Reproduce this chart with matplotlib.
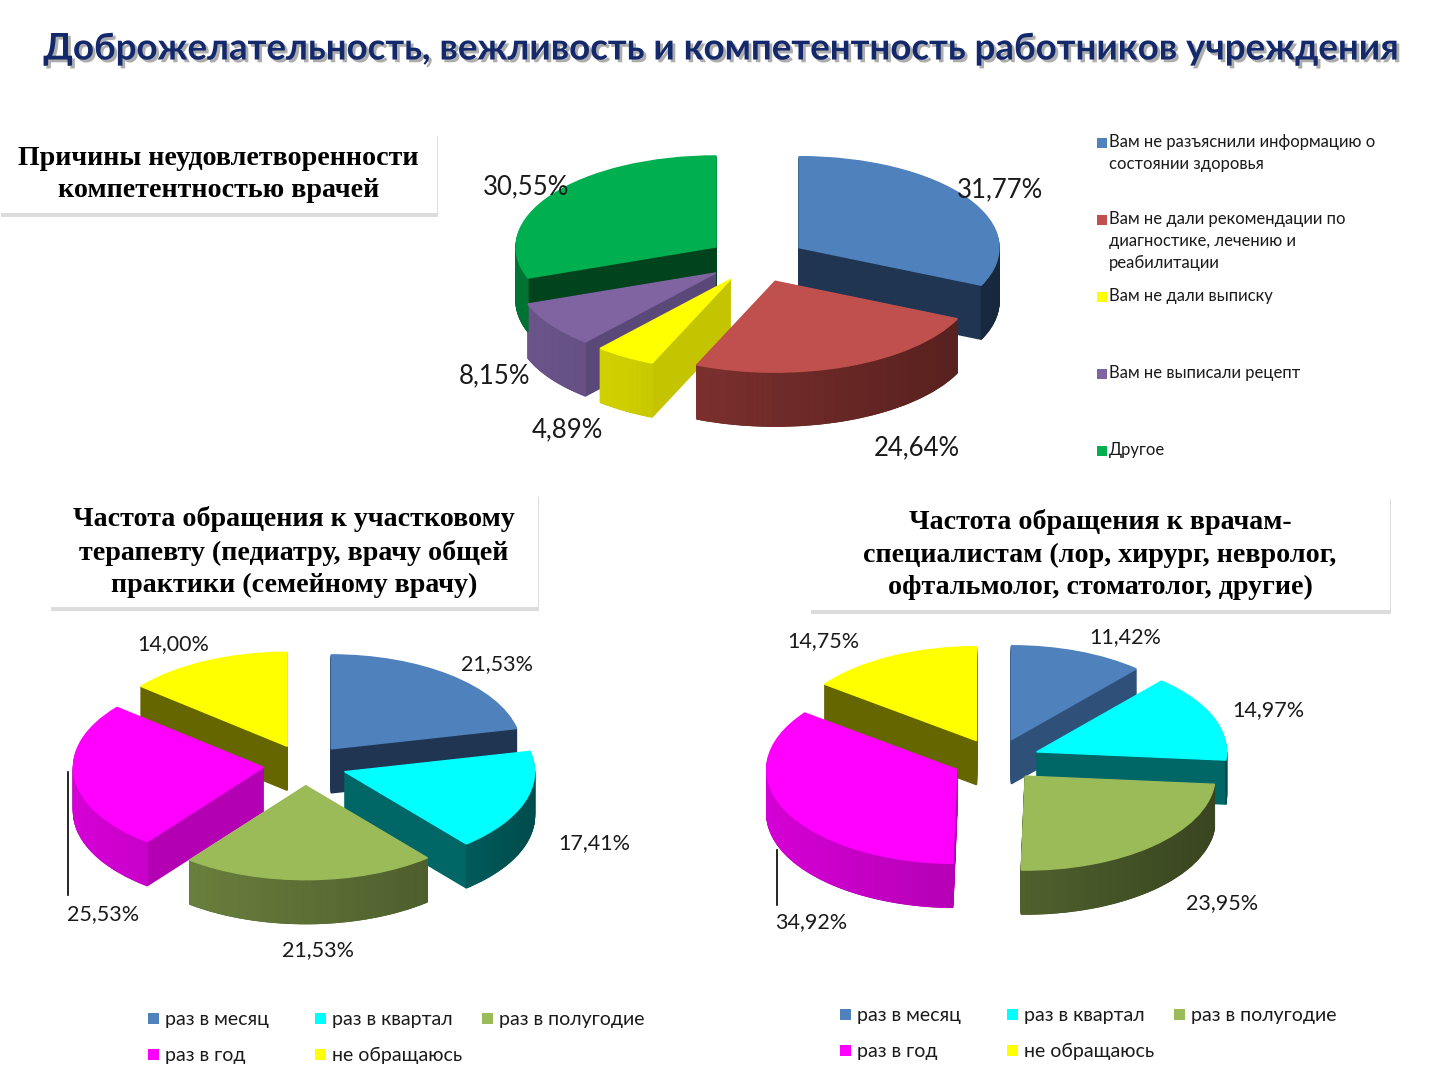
import matplotlib
matplotlib.use("Agg")
import numpy as np
import matplotlib.pyplot as plt
import matplotlib.patheffects as pe
from matplotlib.colors import to_rgb
from matplotlib.patches import Rectangle

# data
reasons = ["Вам не разъяснили информацию о\nсостоянии здоровья",
           "Вам не дали рекомендации по\nдиагностике, лечению и\nреабилитации",
           "Вам не дали выписку",
           "Вам не выписали рецепт",
           "Другое"]
reasons_vals = [31.77, 24.64, 4.89, 8.15, 30.55]

freq = ["раз в месяц", "раз в квартал", "раз в полугодие", "раз в год", "не обращаюсь"]
therapist_vals = [21.53, 17.41, 21.53, 25.53, 14.00]
specialist_vals = [11.42, 14.97, 23.95, 34.92, 14.75]

title = "Доброжелательность, вежливость и компетентность работников учреждения"
box_titles = ["Причины неудовлетворенности\nкомпетентностью врачей",
              "Частота обращения к участковому\nтерапевту (педиатру, врачу общей\nпрактики (семейному врачу)",
              "Частота обращения к врачам-\nспециалистам (лор, хирург, невролог,\nофтальмолог, стоматолог, другие)"]

# colours
reason_top = ["#4F81BD", "#C0504D", "#FFFF00", "#8064A2", "#00B050"]
reason_side = ["#1F3552", "#6E2826", "#C4C400", "#5A4878", "#00431D"]
freq_top = ["#4F81BD", "#00FFFF", "#9BBB59", "#FF00FF", "#FFFF00"]
freq_side_l = ["#1F3552", "#006666", "#586B33", "#B300B3", "#666600"]
freq_side_r = ["#2F5078", "#006666", "#4A5A2A", "#B300B3", "#666600"]

W, H = 1440, 1080
fig = plt.figure(figsize=(14.4, 10.8), dpi=100)
fig.patch.set_facecolor("white")


def fx(x):
    return x / W


def fy(y):
    return 1 - y / H


def fmt(v):
    return f"{v:.2f}%".replace(".", ",")


def mix(c1, c2, t):
    a, b = np.array(to_rgb(c1)), np.array(to_rgb(c2))
    return tuple(a * (1 - t) + b * t)


def pie3d(cx, cy, rx, ry, depth, values, tops, sides, explode, lab_xy, fs, lead=None):
    hw, hh = 2.2 * rx, 3.2 * ry
    ax = fig.add_axes([fx(cx - hw), fy(cy + hh), 2 * hw / W, 2 * hh / H])
    d = depth / ry
    n = int(depth)
    ex = [explode] * len(values)
    # side walls: stacked copies of the pie, bottom first
    for k in range(n, 0, -1):
        wedges, _ = ax.pie(values, colors=sides, startangle=90, counterclock=False,
                           explode=ex, center=(0, -d * k / n), wedgeprops=dict(linewidth=1))
        for w in wedges:
            w.set_edgecolor(w.get_facecolor())
    # shaded outer rim on the front half
    total = sum(values)
    start = 90.0
    for v, top, side in zip(values, tops, sides):
        t1 = start
        t2 = start - 360.0 * v / total
        start = t2
        mid = np.radians((t1 + t2) / 2)
        ox, oy = explode * np.cos(mid), explode * np.sin(mid)
        light = mix(side, top, 0.45)
        dark = mix(side, "black", 0.25)
        th = np.radians(np.linspace(t2, t1, max(int((t1 - t2) / 1.5), 2) + 1))
        for a, b in zip(th[:-1], th[1:]):
            if np.sin((a + b) / 2) >= 0:
                continue
            xs = [ox + np.cos(a), ox + np.cos(b), ox + np.cos(b), ox + np.cos(a)]
            ys = [oy + np.sin(a), oy + np.sin(b), oy + np.sin(b) - d, oy + np.sin(a) - d]
            c = mix(light, dark, (np.mean(xs[:2]) + 1.2) / 2.4)
            ax.fill(xs, ys, color=c, lw=0.8, ec=c)
    wedges, _ = ax.pie(values, colors=tops, startangle=90, counterclock=False,
                       explode=ex, center=(0, 0), wedgeprops=dict(linewidth=1))
    for w in wedges:
        w.set_edgecolor(w.get_facecolor())
    ax.set_aspect("auto")
    ax.set_xlim(-hw / rx, hw / rx)
    ax.set_ylim(-hh / ry, hh / ry)
    ax.axis("off")
    for v, (px, py) in zip(values, lab_xy):
        ax.text((px - cx) / rx, -(py - cy) / ry, fmt(v), ha="center", va="center",
                fontsize=fs, family="Lato", color="#1a1a1a")
    if lead is not None:
        lx, y1, y2 = lead
        ax.plot([(lx - cx) / rx] * 2, [-(y1 - cy) / ry, -(y2 - cy) / ry], color="black", lw=1.2)
    return ax


def box(x1, y1, x2, y2, text, fs):
    r = Rectangle((fx(x1), fy(y2)), (x2 - x1) / W, (y2 - y1) / H, transform=fig.transFigure,
                  facecolor="white", edgecolor="none", zorder=5,
                  path_effects=[pe.SimplePatchShadow(offset=(1, -3), shadow_rgbFace="#a8a8a8", alpha=0.4),
                                pe.Normal()])
    fig.add_artist(r)
    fig.text(fx((x1 + x2) / 2), fy((y1 + y2) / 2 + 2), text, ha="center", va="center",
             fontsize=fs, family="Liberation Serif", weight="bold", linespacing=1.38, zorder=6)


# title
fig.text(fx(721), fy(49), title, ha="center", va="center", fontsize=26.4, family="Lato",
         weight="bold", color="#13296B",
         path_effects=[pe.SimplePatchShadow(offset=(2, -2), shadow_rgbFace="#777777", alpha=0.6),
                       pe.Normal()])

# boxes
box(0, 132, 437, 213, box_titles[0], 20.2)
box(50, 493, 538, 607, box_titles[1], 20.2)
box(810, 495, 1390, 610, box_titles[2], 20.2)

# top pie
pie3d(757, 260, 200, 91, 54, reasons_vals, reason_top, reason_side, 0.25,
      [(1000, 190), (917, 448), (567, 430), (495, 376), (526, 187)], 18.5)

# top legend
for i, (lab, col) in enumerate(zip(reasons, reason_top)):
    y = 142 + 77 * i
    fig.add_artist(Rectangle((fx(1097), fy(y + 6)), 10 / W, 10 / H, transform=fig.transFigure,
                             facecolor=col, edgecolor="none"))
    fig.text(fx(1109), fy(y - 8), lab, ha="left", va="top", fontsize=12, family="Lato",
             linespacing=1.47, color="#1a1a1a")

# bottom left pie
pie3d(305, 765, 190, 94, 44, therapist_vals, freq_top, freq_side_l, 0.22,
      [(497, 664), (594, 843), (318, 950), (103, 914), (173, 644)], 15.5,
      lead=(68, 895, 772))

# bottom right pie
pie3d(996, 760, 190, 94, 44, specialist_vals, freq_top, freq_side_r, 0.23,
      [(1125, 637), (1268, 710), (1222, 903), (811, 922), (823, 641)], 15.5,
      lead=(777, 905, 850))

# bottom legends
for x0, y0 in [(148, 1019), (840, 1015)]:
    for i, (lab, col) in enumerate(zip(freq, freq_top)):
        x = x0 + 167 * (i % 3)
        y = y0 + 36 * (i // 3)
        fig.add_artist(Rectangle((fx(x), fy(y + 5)), 11 / W, 11 / H, transform=fig.transFigure,
                                 facecolor=col, edgecolor="none"))
        fig.text(fx(x + 17), fy(y), lab, ha="left", va="center", fontsize=14, family="Lato",
                 color="#1a1a1a")

fig.savefig("out.png", dpi=100, facecolor="white")
